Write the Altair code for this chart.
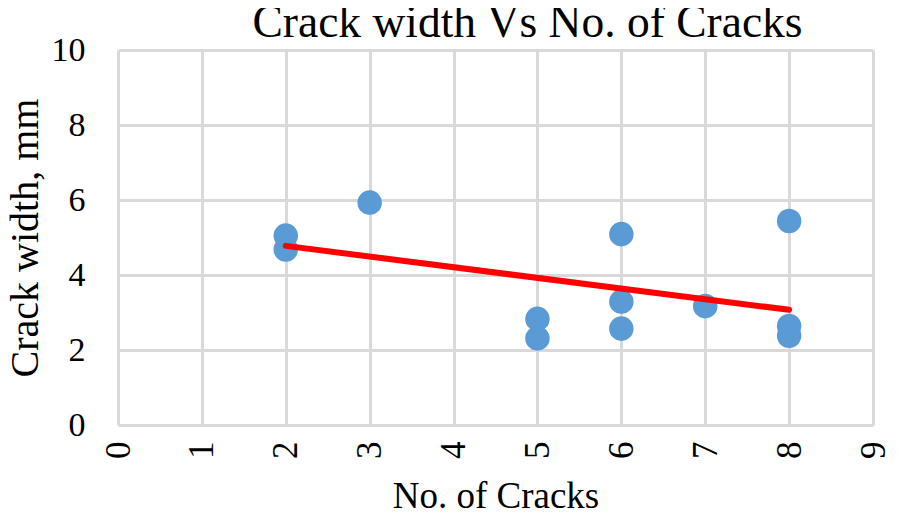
import altair as alt
import pandas as pd

# Data
num_cracks = [2, 2, 3, 5, 5, 6, 6, 6, 7, 8, 8, 8]
crack_width = [5.05, 4.68, 5.93, 2.83, 2.31, 5.09, 3.29, 2.57, 3.17, 5.44, 2.64, 2.38]
x_ticks = [0, 1, 2, 3, 4, 5, 6, 7, 8, 9]
y_ticks = [0, 2, 4, 6, 8, 10]

df = pd.DataFrame({"cracks": num_cracks, "width": crack_width})

FONT = "Liberation Serif"

common_axis = dict(
    labelFont=FONT,
    titleFont=FONT,
    labelColor="black",
    titleColor="black",
    titleFontWeight="normal",
    gridColor="#d9d9d9",
    gridWidth=3,
    grid=True,
    tickSize=0,
    ticks=False,
    domain=False,
    format="d",
)

x_enc = alt.X(
    "cracks:Q",
    scale=alt.Scale(domain=[0, 9], nice=False, zero=False),
    axis=alt.Axis(
        title="No. of Cracks",
        values=x_ticks,
        labelAngle=-90,
        labelFontSize=35,
        labelPadding=16,
        titleFontSize=37,
        titlePadding=20,
        **common_axis,
    ),
)
y_enc = alt.Y(
    "width:Q",
    scale=alt.Scale(domain=[0, 10], nice=False),
    axis=alt.Axis(
        title="Crack width, mm",
        values=y_ticks,
        labelFontSize=34,
        labelPadding=33,
        titleFontSize=40,
        titlePadding=6,
        **common_axis,
    ),
)

points = alt.Chart(df).mark_circle(size=600, color="#5b9bd5", opacity=1).encode(
    x=x_enc, y=y_enc
)

trend = (
    alt.Chart(df)
    .transform_regression("cracks", "width")
    .mark_line(color="#ff0000", strokeWidth=6, strokeCap="round")
    .encode(x="cracks:Q", y="width:Q")
)

chart = (
    alt.layer(points, trend)
    .properties(
        width=755,
        height=375,
        background="white",
        autosize=alt.AutoSizeParams(type="none"),
        padding={"left": 110, "top": 42, "right": 17, "bottom": 91},
        title=alt.TitleParams(
            text="Crack width Vs No. of Cracks",
            font=FONT,
            fontSize=45.5,
            fontWeight="normal",
            color="black",
            anchor="middle",
            frame="group",
            dx=32,
            offset=-13,
        ),
    )
    .configure_view(stroke=None)
)

chart.save("out.html", embed_options={"renderer": "svg", "actions": False})
